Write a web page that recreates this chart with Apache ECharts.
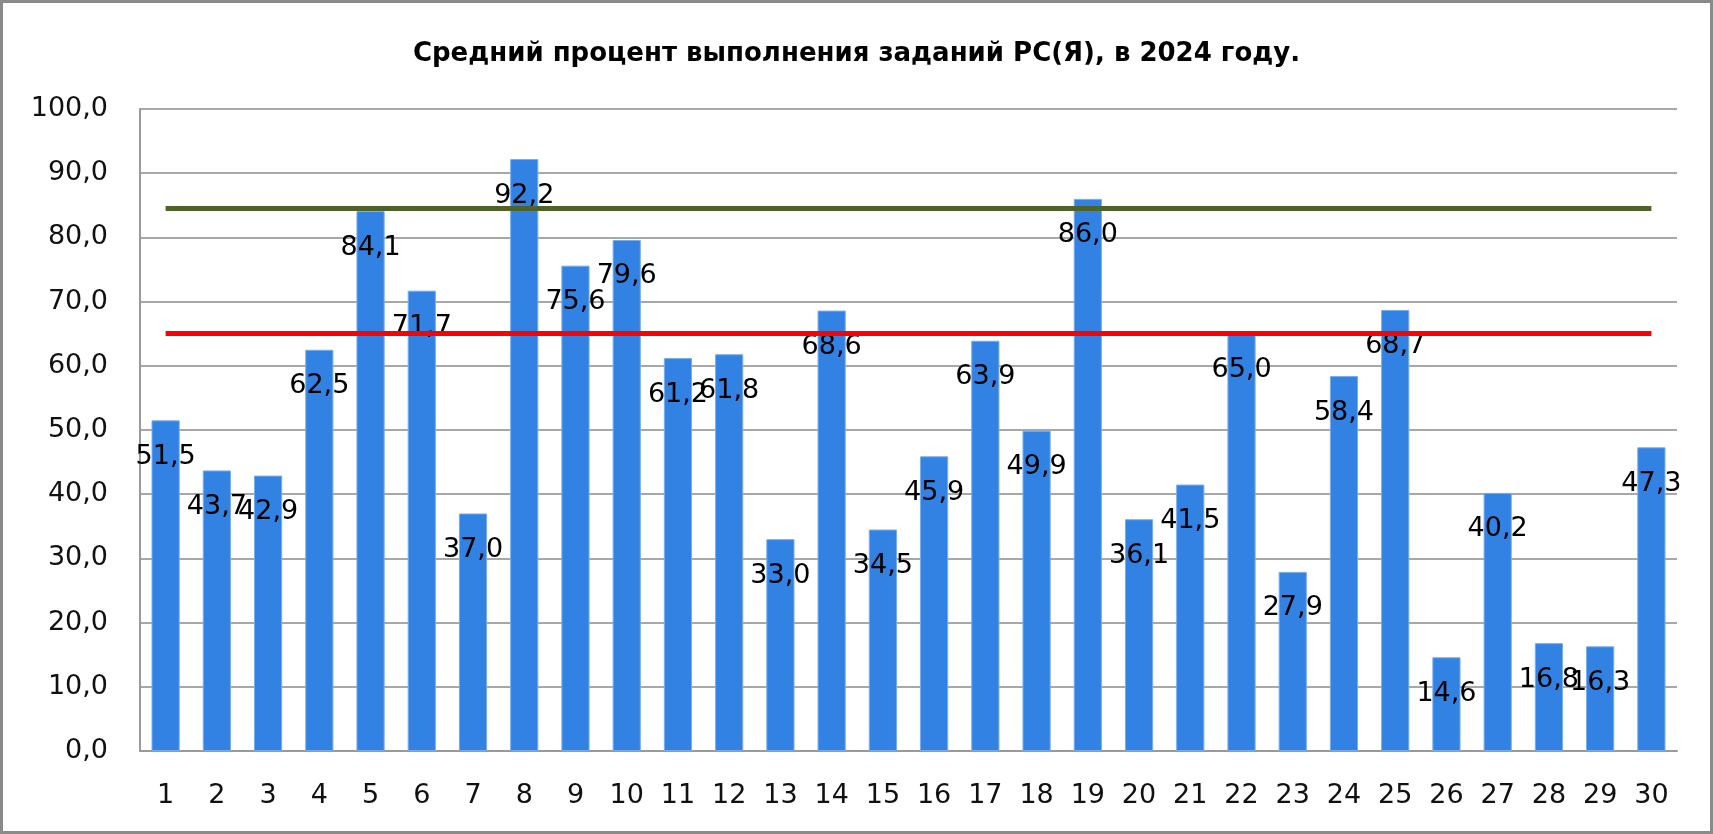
<!DOCTYPE html>
<html>
<head>
<meta charset="utf-8">
<script src="https://cdn.jsdelivr.net/npm/echarts@6/dist/echarts.min.js"></script>
<style>
    html, body { margin: 0; padding: 0; background: #fff; }
    #chart { width: 1713px; height: 834px; border: 3px solid #8a8a8a; box-sizing: border-box; background: #fff; }
</style>
</head>
<body>
<div id="chart"></div>
<script>
// номера РС
var categories = ['1','2','3','4','5','6','7','8','9','10','11','12','13','14','15',
    '16','17','18','19','20','21','22','23','24','25','26','27','28','29','30'];
// средний процент выполнения
var values = [51.5, 43.7, 42.9, 62.5, 84.1, 71.7, 37.0, 92.2, 75.6, 79.6,
    61.2, 61.8, 33.0, 68.6, 34.5, 45.9, 63.9, 49.9, 86.0, 36.1,
    41.5, 65.0, 27.9, 58.4, 68.7, 14.6, 40.2, 16.8, 16.3, 47.3];
// уровни (зелёная и красная линии)
var levelHigh = 84.5;
var levelLow = 65.0;
var yTicks = [0, 10, 20, 30, 40, 50, 60, 70, 80, 90, 100];

function fmt(v) {
    return Number(v).toFixed(1).replace('.', ',');
}

var myChart = echarts.init(document.getElementById('chart'));
var option = {
    animation: false,
    title: {
        text: 'Средний процент выполнения заданий РС(Я), в 2024 году.',
        left: 'center',
        top: 33,
        textStyle: {
            fontFamily: 'DejaVu Sans',
            fontWeight: 'bold',
            fontSize: 26,
            color: '#000'
        }
    },
    grid: {
        left: 137,
        right: 33,
        top: 106,
        bottom: 80
    },
    xAxis: {
        type: 'category',
        data: categories,
        axisTick: { show: false },
        axisLine: { lineStyle: { color: '#9a9a9a', width: 2 } },
        axisLabel: {
            fontFamily: 'DejaVu Sans',
            fontSize: 27,
            color: '#111',
            margin: 31
        }
    },
    yAxis: {
        type: 'value',
        min: yTicks[0],
        max: yTicks[yTicks.length - 1],
        interval: 10,
        axisLine: { show: true, lineStyle: { color: '#9a9a9a', width: 2 } },
        axisTick: { show: false },
        splitLine: { lineStyle: { color: '#a8a8a8', width: 2 } },
        axisLabel: {
            fontFamily: 'DejaVu Sans',
            fontSize: 27,
            color: '#111',
            margin: 32,
            formatter: fmt
        }
    },
    series: [
        {
            name: 'Средний процент',
            type: 'bar',
            barWidth: '55%',
            data: values,
            itemStyle: {
                color: '#3182e3',
                borderColor: '#79acec',
                borderWidth: 1
            },
            label: {
                show: true,
                position: 'insideTop',
                distance: 23,
                fontFamily: 'DejaVu Sans',
                fontSize: 27,
                color: '#000',
                formatter: function (p) { return fmt(p.value); }
            },
            markLine: {
                symbol: 'none',
                silent: true,
                label: { show: false },
                data: [
                    [
                        { coord: [categories[0], levelHigh], lineStyle: { color: '#4f6228', width: 5, type: 'solid' } },
                        { coord: [categories[categories.length - 1], levelHigh] }
                    ],
                    [
                        { coord: [categories[0], levelLow], lineStyle: { color: '#ff0000', width: 5, type: 'solid' } },
                        { coord: [categories[categories.length - 1], levelLow] }
                    ]
                ]
            }
        }
    ]
};
myChart.setOption(option);
</script>
</body>
</html>
